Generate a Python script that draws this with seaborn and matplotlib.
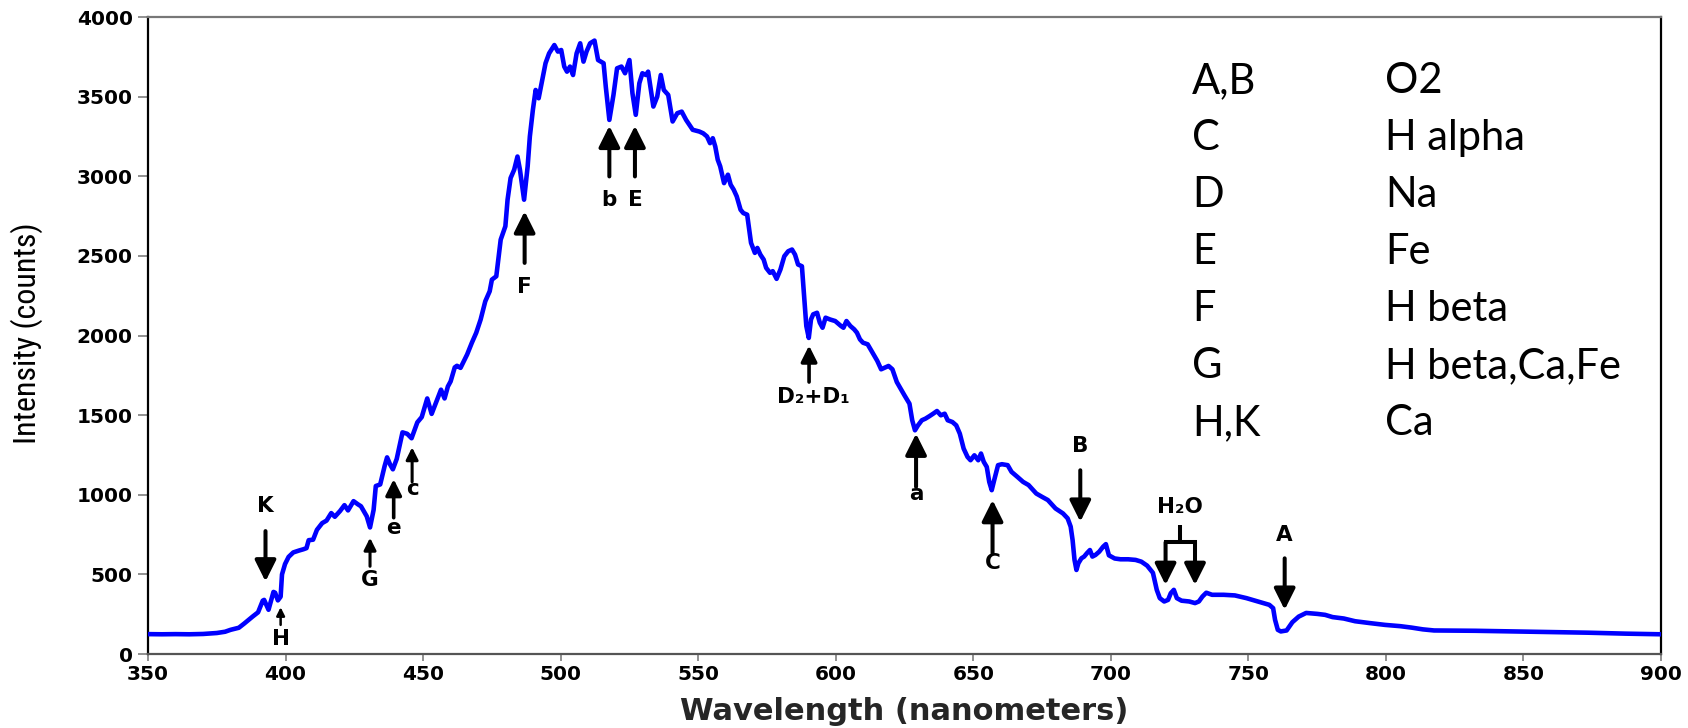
import matplotlib
matplotlib.use("Agg")
import matplotlib.pyplot as plt
import seaborn as sns
import pandas as pd

# Solar spectrum: wavelength (nm) and detector intensity (counts)
wavelength = [
    350, 355, 360, 365, 370, 375, 378, 380, 383, 385, 388, 390, 391.7, 392.2, 393.8,
    395.6, 396.2, 397.2, 398.2, 398.7, 399.8, 401.1, 402.8, 404.9, 406.5, 407.6, 408.4,
    410, 411.4, 413.3, 414.9, 416.6, 417.9, 419.8, 421.4, 422.7, 424.7, 426.3, 427.4,
    429.5, 430.7, 432, 432.8, 434.4, 436, 436.9, 438, 439, 440.4, 442.5, 444.2, 445.8,
    447.9, 449.5, 451.5, 453.1, 454.7, 456.5, 457.8, 459, 460, 461.5, 462.3, 463.6, 466,
    467.7, 469.3, 470.9, 472.6, 474.2, 475, 476.6, 478.2, 479.9, 480.7, 481.8, 483.1,
    484.3, 485.2, 486.7, 488, 488.8, 489.9, 490.9, 492, 493.2, 494.5, 495.8, 497.7, 499,
    500.2, 501.3, 502.3, 503.4, 504.5, 505.8, 507.1, 508.3, 509.4, 510.7, 512.3, 513.6,
    515.6, 516.4, 517.7, 519.2, 520.5, 522.1, 523.4, 525, 526.1, 527.3, 528.6, 529.7,
    531, 531.8, 533.7, 535.1, 536.4, 537.5, 539.1, 540.7, 542.4, 544, 545.6, 548, 550.4,
    551.8, 553.2, 554.3, 555.3, 556.2, 557.1, 558, 559.4, 560.8, 561.8, 562.9, 564,
    565.4, 566.4, 567.8, 569.2, 570.6, 571.5, 572.6, 573.8, 574.7, 576.1, 577.1, 578.5,
    579.9, 581.3, 582.7, 584.1, 585.2, 586.3, 587.7, 588.6, 589.3, 590.2, 591, 591.8,
    593.2, 594.2, 595.2, 596.3, 597.9, 599.8, 601.9, 602.8, 603.9, 605.3, 606.7, 607.7,
    608.8, 609.9, 611.6, 613, 614.4, 615.1, 616.5, 617.9, 619.2, 620.6, 622.2, 623.6,
    625, 626.8, 627.8, 628.8, 629.9, 631.3, 632.6, 634, 635.4, 636.8, 638.2, 639.6,
    640.7, 642.4, 643.8, 645.1, 646.5, 647.9, 649, 650.4, 651.8, 652.8, 653.8, 654.9,
    655.8, 656.7, 657.6, 659, 660.4, 662.5, 663.9, 666, 668.1, 670.1, 672.9, 675, 677.1,
    679.9, 682.6, 684.3, 685.4, 686.1, 686.8, 687.5, 688.2, 689.3, 690.3, 691.3, 692.4,
    693.3, 694.4, 695.8, 697.2, 698.2, 699.3, 701.4, 703.5, 706.3, 709, 711.1, 713.2,
    715.3, 716.7, 717.8, 719.4, 720.8, 721.8, 722.9, 724, 725.7, 728.5, 730.6, 732,
    733.3, 734.7, 736.8, 741, 745.1, 749.3, 753.5, 757.6, 759, 759.7, 760.7, 761.8,
    763.9, 766, 768.3, 771, 775.1, 777.9, 780.6, 784.7, 788.8, 794.3, 799.7, 805.2,
    809.3, 813.4, 817.5, 824.3, 832.5, 846.2, 859.8, 873.5, 887.2, 900,
]
intensity = [
    125, 124, 125, 124, 126, 132, 140, 152, 165, 192, 235, 262, 335, 340, 278,
    390, 385, 337, 360, 500, 565, 610, 638, 650, 658, 665, 715,
    718, 780, 822, 838, 885, 862, 898, 935, 902, 960, 940, 928,
    865, 795, 905, 1055, 1065, 1180, 1235, 1190, 1160, 1225, 1392, 1383, 1355,
    1455, 1488, 1605, 1508, 1580, 1660, 1605, 1680, 1712, 1800, 1810, 1797, 1881,
    1954, 2017, 2100, 2215, 2278, 2351, 2372, 2602, 2686, 2853, 2989, 3041,
    3124, 3041, 2853, 3062, 3250, 3417, 3542, 3490, 3595, 3710, 3772, 3824, 3783,
    3793, 3689, 3657, 3689, 3636, 3772, 3835, 3720, 3783, 3835, 3852, 3730,
    3710, 3563, 3354, 3511, 3678, 3689, 3647, 3730, 3521, 3386, 3584, 3647,
    3636, 3657, 3438, 3500, 3636, 3542, 3511, 3344, 3396, 3406, 3354, 3292, 3281,
    3270, 3250, 3208, 3239, 3187, 3104, 3062, 2957, 3010, 2947, 2916, 2874,
    2790, 2769, 2759, 2582, 2519, 2550, 2508, 2477, 2425, 2394, 2404, 2356,
    2415, 2498, 2529, 2540, 2508, 2446, 2435, 2227, 2060, 1985, 2101, 2133,
    2143, 2081, 2049, 2112, 2101, 2091, 2060, 2049, 2091, 2060, 2039, 2018,
    1976, 1955, 1945, 1903, 1862, 1841, 1788, 1799, 1809, 1788, 1708, 1666,
    1624, 1572, 1468, 1405, 1436, 1468, 1478, 1493, 1509, 1526, 1499, 1509,
    1468, 1457, 1436, 1384, 1290, 1238, 1217, 1248, 1217, 1259, 1207, 1175,
    1081, 1029, 1092, 1186, 1192, 1186, 1144, 1113, 1081, 1061, 1008, 987, 967,
    914, 883, 852, 800, 716, 591, 528, 570, 601, 612, 633, 653,
    612, 622, 643, 674, 690, 620, 600, 595, 595, 591, 580, 555,
    510, 403, 351, 330, 340, 382, 403, 351, 335, 330, 320, 330,
    361, 385, 372, 372, 368, 351, 330, 309, 288, 215, 152, 142,
    148, 200, 235, 258, 252, 246, 232, 223, 206, 194, 183, 175,
    166, 155, 148, 147, 146, 142, 138, 134, 128, 124,
]

# Absorption-line markers: label, x position, arrow tail, arrow tip, label y, arrow size
line_labels = ["K", "H", "G", "e", "c", "F", "b", "E", "D\u2082+D\u2081", "a", "C", "B", "A"]
line_x = [392.7, 398.2, 430.7, 439.3, 446.0, 486.9, 517.7, 527.0, 590.3, 629.2, 657.0, 688.9, 763.2]
arrow_tail = [772, 183, 551, 856, 1081, 2456, 2999, 2999, 1708, 1050, 633, 1154, 601]
arrow_tip = [456, 294, 730, 1098, 1298, 2780, 3317, 3317, 1937, 1384, 967, 831, 278]
label_y = [930, 93, 467, 793, 1035, 2305, 2853, 2853, 1614, 1008, 570, 1307, 747]
label_dx = [0, 0, 0, 0, 0, 0, 0, 0, 1.5, 0, 0, 0, 0]
arrow_size = ["big", "small", "mid", "medium", "mid", "big", "big", "big", "medium", "big", "big", "big", "big"]

# Water-vapour band: two arrows joined by a bracket
h2o_label = "H\u2082O"
h2o_x = [719.9, 730.6]
h2o_stem_x = 725.2
h2o_label_y = 925
h2o_stem_top = 810
h2o_bar_y = 701
h2o_tip = 434

# Key to the line designations
key_letters = ["A,B", "C", "D", "E", "F", "G", "H,K"]
key_elements = ["O2", "H alpha", "Na", "Fe", "H beta", "H beta,Ca,Fe", "Ca"]

sns.set_theme(style="white")
plt.rcParams["font.family"] = ["DejaVu Sans"]

fig = plt.figure(figsize=(16.88, 7.28), dpi=100)
ax = fig.add_axes([0.0877, 0.1016, 0.8963, 0.8750])

df = pd.DataFrame({"Wavelength": wavelength, "Intensity": intensity})
sns.lineplot(data=df, x="Wavelength", y="Intensity", ax=ax, color="#0000ff",
             linewidth=3.3, zorder=3)

ax.set_xlim(350, 900)
ax.set_ylim(0, 4000)
ax.set_xticks(range(350, 901, 50))
ax.set_yticks(range(0, 4001, 500))

for side, col in [("left", "black"), ("right", "black"), ("top", "#777777"), ("bottom", "#555555")]:
    ax.spines[side].set_visible(True)
    ax.spines[side].set_color(col)
    ax.spines[side].set_linewidth(1.6)

ax.tick_params(axis="both", which="major", direction="out", width=1.3,
               color="#888888", labelsize=14.5, labelcolor="black")
ax.tick_params(axis="y", length=7.5, pad=3.5)
ax.tick_params(axis="x", length=5, pad=3)
ax.tick_params(top=False, right=False, bottom=True, left=True)
for lab in ax.get_xticklabels() + ax.get_yticklabels():
    lab.set_fontweight("bold")

ax.set_xlabel("Wavelength (nanometers)", fontsize=22, fontweight="bold", va="center")
ax.xaxis.set_label_coords(0.5, -0.0895)
ax.set_ylabel("Intensity (counts)", fontsize=23,
              family=["Roboto Condensed", "Liberation Sans", "DejaVu Sans"],
              fontweight="normal", color="black", va="center")
ax.yaxis.set_label_coords(-0.080, 0.504)

styles = {
    "big": dict(lw=2.9, ms=16),
    "medium": dict(lw=2.6, ms=12),
    "mid": dict(lw=2.2, ms=9),
    "small": dict(lw=1.8, ms=6),
}
head = "-|>,head_length=0.8,head_width=0.4"

for lab, x, tail, tip, ly, dx, size in zip(line_labels, line_x, arrow_tail, arrow_tip,
                                           label_y, label_dx, arrow_size):
    st = styles[size]
    ax.annotate("", xy=(x, tip), xytext=(x, tail),
                arrowprops=dict(arrowstyle=head, lw=st["lw"], color="black",
                                mutation_scale=st["ms"], shrinkA=0, shrinkB=0),
                zorder=4)
    ax.text(x + dx, ly, lab, ha="center", va="center", fontsize=15.5,
            fontweight="bold", color="black", zorder=4)

# H2O bracket and its two arrows
ax.plot([h2o_stem_x, h2o_stem_x], [h2o_stem_top, h2o_bar_y], color="black", lw=2.9,
        solid_capstyle="butt", zorder=4)
ax.plot([h2o_x[0], h2o_x[1]], [h2o_bar_y, h2o_bar_y], color="black", lw=2.9,
        solid_capstyle="projecting", zorder=4)
for x in h2o_x:
    ax.annotate("", xy=(x, h2o_tip), xytext=(x, h2o_bar_y),
                arrowprops=dict(arrowstyle=head, lw=2.9, color="black",
                                mutation_scale=16, shrinkA=0, shrinkB=0),
                zorder=4)
ax.text(h2o_stem_x, h2o_label_y, h2o_label, ha="center", va="center", fontsize=15.5,
        fontweight="bold", color="black", zorder=4)

# Key table in the upper right
key_font = ["Lato", "DejaVu Sans"]
row_top = 0.8995
row_step = 0.0895
for i, (k, v) in enumerate(zip(key_letters, key_elements)):
    y = row_top - i * row_step
    ax.text(0.690, y, k, transform=ax.transAxes, ha="left", va="center",
            fontsize=30, family=key_font, color="black")
    ax.text(0.8176, y, v, transform=ax.transAxes, ha="left", va="center",
            fontsize=30, family=key_font, color="black")

fig.savefig("out.png", dpi=100, facecolor="white")
